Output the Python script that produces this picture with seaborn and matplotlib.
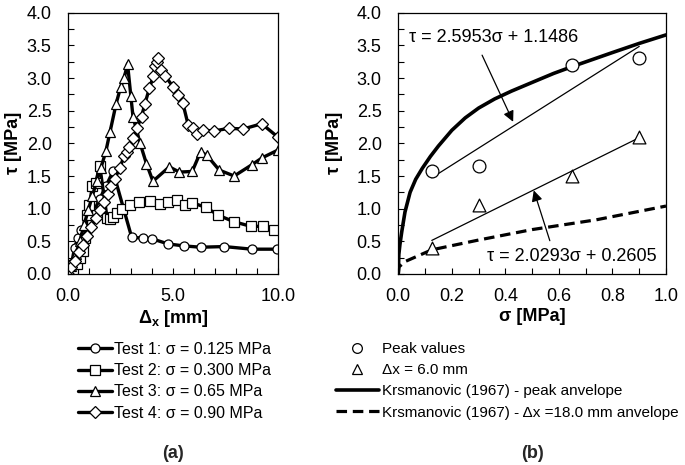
import matplotlib
matplotlib.use("Agg")
import matplotlib.pyplot as plt
import seaborn as sns
from matplotlib.ticker import MultipleLocator, FixedLocator, FormatStrFormatter
from matplotlib.lines import Line2D

# ---------------- data ----------------
t1_x = [0.0, 0.15, 0.3, 0.45, 0.6, 0.9, 1.2, 1.5, 1.8, 2.13, 3.02, 3.57, 3.97, 4.76, 5.51, 6.3, 7.43, 8.73, 9.95]
t1_y = [0.0, 0.15, 0.4, 0.55, 0.67, 0.8, 0.95, 1.15, 1.35, 1.57, 0.56, 0.55, 0.54, 0.46, 0.43, 0.41, 0.42, 0.38, 0.38]

t2_x = [0.0, 0.2, 0.4, 0.55, 0.7, 0.8, 0.9, 1.0, 1.15, 1.3, 1.5, 1.85, 2.0, 2.15, 2.3, 2.55, 2.94, 3.38, 3.89,
        4.37, 4.73, 5.16, 5.56, 5.9, 6.56, 7.14, 7.89, 8.69, 9.29, 9.8]
t2_y = [0.0, 0.05, 0.15, 0.25, 0.35, 0.55, 0.9, 1.05, 1.35, 1.4, 1.65, 0.85, 0.84, 0.87, 0.93, 1.0, 1.06, 1.10, 1.12,
        1.07, 1.10, 1.13, 1.05, 1.09, 1.02, 0.90, 0.80, 0.73, 0.73, 0.68]

t3_x = [0.0, 0.15, 0.35, 0.55, 0.75, 0.95, 1.15, 1.35, 1.55, 1.79, 1.99, 2.28, 2.5, 2.66, 2.82, 2.98, 3.08, 3.41,
        3.72, 4.03, 4.81, 5.29, 5.9, 6.3, 6.59, 7.19, 7.9, 8.73, 9.24, 10.0]
t3_y = [0.0, 0.12, 0.3, 0.5, 0.75, 0.98, 1.2, 1.42, 1.62, 1.88, 2.18, 2.61, 2.87, 3.0, 3.22, 2.72, 2.41, 2.01,
        1.69, 1.42, 1.64, 1.56, 1.57, 1.87, 1.82, 1.59, 1.5, 1.67, 1.78, 1.9]

t4_x = [0.0, 0.15, 0.3, 0.5, 0.7, 0.9, 1.1, 1.3, 1.5, 1.7, 1.9, 2.05, 2.2, 2.45, 2.65, 2.78, 2.9, 3.1, 3.26, 3.49,
        3.65, 3.86, 4.05, 4.13, 4.21, 4.29, 4.42, 4.62, 5.0, 5.24, 5.45, 5.71, 5.95, 6.11, 6.43, 6.94, 7.65, 8.33,
        9.21, 10.0]
t4_y = [0.0, 0.1, 0.2, 0.33, 0.45, 0.58, 0.72, 0.85, 0.98, 1.1, 1.22, 1.35, 1.45, 1.62, 1.8, 1.87, 1.95, 2.08, 2.23,
        2.41, 2.61, 2.84, 3.03, 3.18, 3.25, 3.3, 3.13, 3.03, 2.86, 2.74, 2.62, 2.28, 2.23, 2.14, 2.2, 2.19, 2.23,
        2.22, 2.3, 2.09]

test_labels = ["Test 1: σ = 0.125 MPa", "Test 2: σ = 0.300 MPa",
               "Test 3: σ = 0.65 MPa", "Test 4: σ = 0.90 MPa"]

sigma_tests = [0.125, 0.3, 0.65, 0.9]
peak_tau = [1.57, 1.65, 3.2, 3.3]
dx6_tau = [0.4, 1.05, 1.5, 2.1]

fit_sigma = [0.125, 0.9]
fit_peak_tau = [1.473, 3.484]
fit_dx6_tau = [0.514, 2.087]

env_peak_sigma = [0.0, 0.002, 0.006, 0.013, 0.025, 0.044, 0.065, 0.09, 0.12, 0.15, 0.2, 0.25, 0.3, 0.36, 0.423,
                  0.51, 0.58, 0.653, 0.73, 0.8, 0.9, 1.0]
env_peak_tau = [0.0, 0.3, 0.45, 0.65, 0.95, 1.25, 1.45, 1.62, 1.8, 1.96, 2.2, 2.39, 2.54, 2.68, 2.8,
                2.95, 3.07, 3.18, 3.29, 3.39, 3.53, 3.66]

env_res_sigma = [0.0, 0.003, 0.025, 0.125, 0.3, 0.5, 0.74, 1.0]
env_res_tau = [0.0, 0.11, 0.19, 0.37, 0.52, 0.68, 0.83, 1.04]

right_labels = ["Peak values", "Δx = 6.0 mm", "Krsmanovic (1967) - peak anvelope",
                "Krsmanovic (1967) - Δx =18.0 mm anvelope"]

# ---------------- style ----------------
sns.set_theme(style="ticks")
plt.rcParams["font.family"] = ["Liberation Sans", "DejaVu Sans"]
plt.rcParams["mathtext.fontset"] = "custom"
plt.rcParams["mathtext.rm"] = "Liberation Sans"
plt.rcParams["mathtext.bf"] = "Liberation Sans:bold"
plt.rcParams["mathtext.it"] = "Liberation Sans:italic"

W, H = 685, 465
fig = plt.figure(figsize=(W / 100, H / 100), dpi=100)
fig.patch.set_facecolor("white")

ax1 = fig.add_axes([68.3 / W, 1 - 274 / H, 210 / W, 261.3 / H])
ax2 = fig.add_axes([398.3 / W, 1 - 274 / H, 267.7 / W, 261.3 / H])

for ax in (ax1, ax2):
    ax.set_facecolor("white")
    for s in ax.spines.values():
        s.set_color("black")
        s.set_linewidth(0.9)
    ax.tick_params(which="both", direction="in", colors="black", width=0.8, labelsize=13)
    ax.tick_params(axis="x", which="both", pad=10)
    ax.tick_params(axis="y", which="both", pad=12)
    ax.tick_params(which="both", length=4.5)

# ---------------- left panel ----------------
markers = ["o", "s", "^", "D"]
msizes = [6.5, 6.5, 7, 6]
series = [(t1_x, t1_y), (t2_x, t2_y), (t3_x, t3_y), (t4_x, t4_y)]
left_handles = []
for (xs, ys), m, ms, lab in zip(series, markers, msizes, test_labels):
    sns.lineplot(x=xs, y=ys, ax=ax1, sort=False, estimator=None, color="black", linewidth=2.4,
                 marker=m, markersize=ms, markerfacecolor="white", markeredgecolor="black",
                 markeredgewidth=0.9, legend=False)
    left_handles.append(Line2D([], [], color="black", linewidth=2.4, marker=m, markersize=ms,
                               markerfacecolor="white", markeredgecolor="black", markeredgewidth=0.9))

ax1.set_xlim(0, 10)
ax1.set_ylim(0, 4)
ax1.xaxis.set_major_locator(FixedLocator([0, 5, 10]))
ax1.xaxis.set_minor_locator(MultipleLocator(1))
ax1.set_xticklabels(["0.0", "5.0", "10.0"])
ax1.yaxis.set_major_locator(MultipleLocator(0.5))
ax1.yaxis.set_minor_locator(MultipleLocator(0.25))
ax1.yaxis.set_major_formatter(FormatStrFormatter("%.1f"))
ax1.set_xlabel(r"$\mathbf{\Delta_{x}}$ [mm]", fontsize=13, fontweight="bold", color="black")
ax1.set_ylabel("τ [MPa]", fontsize=13, fontweight="bold", color="black")
ax1.xaxis.set_label_coords(0.5, -0.13)
ax1.yaxis.set_label_coords(-0.22, 0.5)

# ---------------- right panel ----------------
sns.lineplot(x=env_peak_sigma, y=env_peak_tau, ax=ax2, sort=False, estimator=None, color="black",
             linewidth=2.6, legend=False)
sns.lineplot(x=env_res_sigma, y=env_res_tau, ax=ax2, sort=False, estimator=None, color="black",
             linewidth=2.3, legend=False)
ax2.lines[-1].set_dashes((3.3, 1.8))
sns.lineplot(x=fit_sigma, y=fit_peak_tau, ax=ax2, color="black", linewidth=0.9, estimator=None, legend=False)
sns.lineplot(x=fit_sigma, y=fit_dx6_tau, ax=ax2, color="black", linewidth=0.9, estimator=None, legend=False)
sns.scatterplot(x=sigma_tests, y=peak_tau, ax=ax2, marker="o", s=85, facecolor="white",
                edgecolor="black", linewidth=0.9, zorder=5, legend=False)
sns.scatterplot(x=sigma_tests, y=dx6_tau, ax=ax2, marker="^", s=85, facecolor="white",
                edgecolor="black", linewidth=0.9, zorder=5, legend=False)

ax2.annotate("", xy=(0.429, 2.33), xytext=(0.313, 3.35),
             arrowprops=dict(arrowstyle="-|>", color="black", lw=0.9, mutation_scale=16, shrinkA=0, shrinkB=0))
ax2.annotate("", xy=(0.506, 1.28), xytext=(0.566, 0.51),
             arrowprops=dict(arrowstyle="-|>", color="black", lw=0.9, mutation_scale=16, shrinkA=0, shrinkB=0))
ax2.text(0.041, 3.62, "τ = 2.5953σ + 1.1486", fontsize=13, ha="left", va="center", color="black")
ax2.text(0.964, 0.275, "τ = 2.0293σ + 0.2605", fontsize=13, ha="right", va="center", color="black")

ax2.set_xlim(0, 1)
ax2.set_ylim(0, 4)
ax2.xaxis.set_major_locator(MultipleLocator(0.2))
ax2.xaxis.set_minor_locator(MultipleLocator(0.1))
ax2.xaxis.set_major_formatter(FormatStrFormatter("%.1f"))
ax2.yaxis.set_major_locator(MultipleLocator(0.5))
ax2.yaxis.set_minor_locator(MultipleLocator(0.25))
ax2.yaxis.set_major_formatter(FormatStrFormatter("%.1f"))
ax2.set_xlabel("σ [MPa]", fontsize=13, fontweight="bold", color="black")
ax2.set_ylabel("τ [MPa]", fontsize=13, fontweight="bold", color="black")
ax2.xaxis.set_label_coords(0.5, -0.13)
ax2.yaxis.set_label_coords(-0.207, 0.5)

# ---------------- legends ----------------
leg1 = fig.legend(left_handles, test_labels, loc="upper left", bbox_to_anchor=(78 / W, 1 - 342 / H),
                  frameon=False, fontsize=11.5, handlelength=2.1, handletextpad=0.15,
                  labelspacing=0.39, borderpad=0, borderaxespad=0)
for t in leg1.get_texts():
    t.set_color("black")

right_handles = [
    Line2D([], [], linestyle="none", marker="o", markersize=7, markerfacecolor="white",
           markeredgecolor="black", markeredgewidth=0.9),
    Line2D([], [], linestyle="none", marker="^", markersize=7, markerfacecolor="white",
           markeredgecolor="black", markeredgewidth=0.9),
    Line2D([], [], color="black", linewidth=2.6),
    Line2D([], [], color="black", linewidth=2.3, dashes=(3.3, 1.8)),
]
leg2 = fig.legend(right_handles, right_labels, loc="upper left", bbox_to_anchor=(336 / W, 1 - 342 / H),
                  frameon=False, fontsize=11, handlelength=2.8, handletextpad=0.2,
                  labelspacing=0.47, borderpad=0, borderaxespad=0)
for t in leg2.get_texts():
    t.set_color("black")

fig.text(173 / W, 1 - 453 / H, "(a)", fontsize=13, fontweight="bold", ha="center", va="center")
fig.text(532 / W, 1 - 453 / H, "(b)", fontsize=13, fontweight="bold", ha="center", va="center")

fig.savefig("out.png", dpi=100, facecolor="white")
